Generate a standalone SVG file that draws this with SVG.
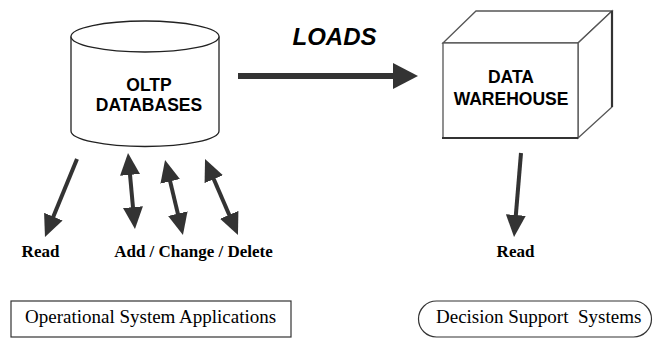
<svg xmlns="http://www.w3.org/2000/svg" width="654" height="338" viewBox="0 0 654 338">
  <defs>
    <style>
      .sans { font-family: "Liberation Sans", Arial, sans-serif; font-weight: bold; fill: #000; }
      .serif { font-family: "Liberation Serif", "Times New Roman", serif; fill: #000; }
      .lbl { font-size: 17px; font-weight: bold; }
      .app { font-size: 19px; }
      .shape { fill: #fff; stroke: #222; stroke-width: 1.3; }
      .box { fill: #fff; stroke: #555; stroke-width: 1.3; stroke-linejoin: miter; }
      .arrow { stroke: #333; stroke-width: 4; fill: none; marker-end: url(#head); }
      .darrow { stroke: #333; stroke-width: 4; fill: none; marker-start: url(#head); marker-end: url(#head); }
    </style>
    <marker id="head" viewBox="0 0 22 20" refX="8" refY="10" markerWidth="22" markerHeight="20" markerUnits="userSpaceOnUse" orient="auto-start-reverse">
      <path d="M0,0 L22,10 L0,20 z" fill="#333"/>
    </marker>
    <marker id="bighead" viewBox="0 0 25 26" refX="8" refY="13" markerWidth="25" markerHeight="26" markerUnits="userSpaceOnUse" orient="auto">
      <path d="M0,0 L25,13 L0,26 z" fill="#333"/>
    </marker>
  </defs>

  <g id="oltp">
    <path class="shape" d="M71,36.5 V131 A74,15.5 0 0 0 219,131 V36.5"/>
    <ellipse class="shape" cx="145" cy="36.5" rx="74" ry="15.5"/>
    <text class="sans" x="149" y="91" font-size="17.5" text-anchor="middle">OLTP</text>
    <text class="sans" x="149" y="111" font-size="17.5" text-anchor="middle">DATABASES</text>
  </g>

  <g id="warehouse">
    <path class="box" d="M443,43 L476,11 L612,11 L578,43 Z"/>
    <path class="box" d="M578,43 L612,11 L612,107 L578,138 Z"/>
    <rect class="box" x="443" y="43" width="135" height="95"/>
    <line x1="612" y1="11" x2="612" y2="107" stroke="#333" stroke-width="2.2"/>
    <line x1="442" y1="138" x2="578" y2="138" stroke="#333" stroke-width="1.8"/>
    <text class="sans" x="511" y="83" font-size="17.5" text-anchor="middle">DATA</text>
    <text class="sans" x="511" y="105" font-size="17.5" text-anchor="middle">WAREHOUSE</text>
  </g>

  <g id="loads-label">
    <text class="sans" x="334.5" y="45" font-size="24" font-style="italic" text-anchor="middle">LOADS</text>
  </g>

  <g id="connectors">
    <line x1="238" y1="76" x2="401" y2="76" stroke="#333" stroke-width="6" marker-end="url(#bighead)"/>
    <line class="arrow" x1="77" y1="159" x2="50.3" y2="224"/>
    <line class="darrow" x1="129.3" y1="166.9" x2="133.7" y2="215.1"/>
    <line class="darrow" x1="168.3" y1="173.6" x2="179.7" y2="221.4"/>
    <line class="darrow" x1="210.6" y1="171.8" x2="232.4" y2="222.2"/>
    <line class="arrow" x1="521" y1="153" x2="515.2" y2="223"/>
  </g>

  <g id="read-left">
    <text class="serif lbl" x="40.5" y="257" text-anchor="middle">Read</text>
  </g>
  <g id="add-change-delete">
    <text class="serif lbl" x="193.5" y="257" text-anchor="middle">Add / Change / Delete</text>
  </g>
  <g id="read-right">
    <text class="serif lbl" x="515.5" y="257" text-anchor="middle">Read</text>
  </g>

  <g id="operational">
    <rect x="11" y="301" width="280" height="36" fill="#fff" stroke="#333" stroke-width="1.2"/>
    <text class="serif app" x="25" y="323">Operational System Applications</text>
  </g>

  <g id="decision">
    <rect x="418.5" y="301" width="233" height="36" rx="18" ry="18" fill="#fff" stroke="#333" stroke-width="1.2"/>
    <text class="serif app" x="436" y="323" xml:space="preserve">Decision Support  Systems</text>
  </g>
</svg>
